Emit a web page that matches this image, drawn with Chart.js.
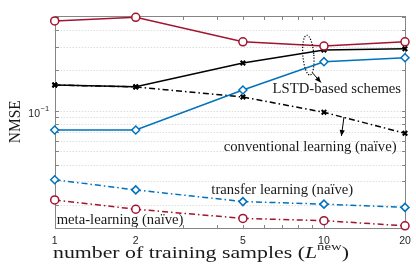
<!DOCTYPE html>
<html><head><meta charset="utf-8">
<script src="https://cdn.jsdelivr.net/npm/chart.js@4/dist/chart.umd.min.js"></script>
<style>html,body{margin:0;padding:0;background:#fff}#wrap{width:416px;height:268px;position:relative}</style>
</head><body><div id="wrap"><canvas id="c"></canvas></div>
<script>
// ---- data ----
const trainingSamples = [1, 2, 5, 10, 20];
const lstdMeta       = [0.467, 0.497, 0.327, 0.304, 0.327];
const lstdConv       = [0.156, 0.1516, 0.2275, 0.284, 0.2905];
const lstdTransfer   = [0.0722, 0.0722, 0.1432, 0.2326, 0.249];
const naiveConv      = [0.156, 0.151, 0.127, 0.0978, 0.0683];
const naiveTransfer  = [0.0308, 0.0259, 0.0212, 0.0203, 0.0192];
const naiveMeta      = [0.0218, 0.0186, 0.0159, 0.0153, 0.0140];
const xTickLabels    = ['1', '2', '5', '10', '20'];
const xMinorTicks    = [3, 4, 6, 7, 8, 9];
const yTickValues    = [0.02, 0.03, 0.04, 0.05, 0.06, 0.07, 0.08, 0.09, 0.1, 0.2, 0.3, 0.4, 0.5];
const yLabelledTicks = [0.1];
const yRange         = [0.01356, 0.511];

const RED = '#A2142F', BLUE = '#0072BD', BLACK = '#000000';
const DASHDOT = [6, 3, 1.5, 3];
function pts(vals) { return trainingSamples.map((x, i) => ({ x: x, y: vals[i] })); }
function ds(label, vals, color, style, dash) {
  const cross = style === 'crossRot';
  return {
    label, data: pts(vals), borderColor: color, backgroundColor: color,
    borderWidth: 1.5, borderDash: dash, pointStyle: style,
    pointRadius: cross ? 3.2 : 4, pointBorderWidth: cross ? 2 : 1.5,
    pointBackgroundColor: cross ? color : '#ffffff', pointBorderColor: color,
    tension: 0, clip: false, fill: false
  };
}

function fitSize(ctx, text, family, style, target) {
  ctx.font = style + ' 100px ' + family;
  return 100 * target / ctx.measureText(text).width;
}

const SERIF = '"Liberation Serif", "Times New Roman", serif';
const SANS = '"Liberation Sans", Arial, sans-serif';

const framePlugin = {
  id: 'frame',
  beforeDatasetsDraw(chart) {
    const { ctx, chartArea: a, scales: { x, y } } = chart;
    ctx.save();
    ctx.lineWidth = 1;
    ctx.strokeStyle = '#cfcfcf';
    ctx.setLineDash([1, 2]);
    yTickValues.forEach(v => {
      const py = Math.round(y.getPixelForValue(v)) + 0.5;
      if (py < a.top + 2 || py > a.bottom - 2) return;
      ctx.beginPath(); ctx.moveTo(a.left, py); ctx.lineTo(a.right, py); ctx.stroke();
    });
    ctx.setLineDash([]);
    ctx.strokeStyle = '#858585';
    const L = Math.round(a.left) + 0.5, R = Math.round(a.right) + 0.5;
    const T = Math.round(a.top) + 0.5, B = Math.round(a.bottom) + 0.5;
    ctx.strokeRect(L, T, R - L, B - T);
    const tl = 3.5;
    trainingSamples.concat(xMinorTicks).forEach(v => {
      const px = Math.round(x.getPixelForValue(v)) + 0.5;
      ctx.beginPath();
      ctx.moveTo(px, B); ctx.lineTo(px, B - tl);
      ctx.moveTo(px, T); ctx.lineTo(px, T + tl);
      ctx.stroke();
    });
    yTickValues.forEach(v => {
      const py = Math.round(y.getPixelForValue(v)) + 0.5;
      ctx.beginPath();
      ctx.moveTo(L, py); ctx.lineTo(L + tl, py);
      ctx.moveTo(R, py); ctx.lineTo(R - tl, py);
      ctx.stroke();
    });
    ctx.restore();
  },
  afterDatasetsDraw(chart) {
    const { ctx, scales: { x, y } } = chart;
    const P = (xv, yv) => [x.getPixelForValue(xv), y.getPixelForValue(yv)];
    ctx.save();
    // dotted ellipse around the LSTD schemes
    const [ex, ey] = P(8.75, 0.26);
    ctx.strokeStyle = '#000'; ctx.lineWidth = 1.2; ctx.setLineDash([1.2, 1.6]);
    ctx.beginPath(); ctx.ellipse(ex, ey, 5.5, 20, -0.08, 0, Math.PI * 2); ctx.stroke();
    ctx.setLineDash([]);
    function arrow(x0, y0, x1, y1) {
      const [a0, b0] = P(x0, y0), [a1, b1] = P(x1, y1);
      ctx.lineWidth = 1; ctx.strokeStyle = '#000'; ctx.fillStyle = '#000';
      ctx.beginPath(); ctx.moveTo(a0, b0); ctx.lineTo(a1, b1); ctx.stroke();
      const ang = Math.atan2(b1 - b0, a1 - a0), h = 6, w = 2.6;
      ctx.beginPath();
      ctx.moveTo(a1, b1);
      ctx.lineTo(a1 - h * Math.cos(ang) + w * Math.sin(ang), b1 - h * Math.sin(ang) - w * Math.cos(ang));
      ctx.lineTo(a1 - h * Math.cos(ang) - w * Math.sin(ang), b1 - h * Math.sin(ang) + w * Math.cos(ang));
      ctx.closePath(); ctx.fill();
    }
    arrow(9.07, 0.1918, 9.75, 0.163);
    arrow(11.87, 0.0902, 11.61, 0.0652);
    // annotation texts
    ctx.fillStyle = '#1a1a1a'; ctx.textBaseline = 'alphabetic'; ctx.textAlign = 'left';
    const notes = [
      ['LSTD-based schemes', 6.445, 0.1353, 127],
      ['conventional learning (naïve)', 4.242, 0.05069, 173],
      ['transfer learning (naïve)', 3.818, 0.02403, 145],
      ['meta-learning (naïve)', 1.017, 0.01438, 127]
    ];
    const s = fitSize(ctx, notes[1][0], SERIF, '', notes[1][3]);
    ctx.font = s.toFixed(2) + 'px ' + SERIF;
    notes.forEach(n => { const [px, py] = P(n[1], n[2]); ctx.fillText(n[0], px, py); });
    ctx.restore();
  },
  afterDraw(chart) {
    const { ctx, chartArea: a, scales: { x, y } } = chart;
    ctx.save();
    ctx.fillStyle = '#262626';
    // x tick labels
    ctx.font = '10.5px ' + SANS; ctx.textAlign = 'center'; ctx.textBaseline = 'middle';
    trainingSamples.forEach((v, i) => ctx.fillText(xTickLabels[i], x.getPixelForValue(v), a.bottom + 13));
    // y tick labels 10^-1
    yLabelledTicks.forEach(v => {
      const py = y.getPixelForValue(v);
      const e = Math.round(Math.log10(v));
      ctx.font = '10.5px ' + SANS; ctx.textAlign = 'right'; ctx.textBaseline = 'middle';
      ctx.fillText('10', 40, py + 3);
      ctx.font = '7.5px ' + SANS; ctx.textAlign = 'left';
      ctx.fillText('\u2212' + Math.abs(e), 40.5, py - 2);
    });
    // y title
    ctx.fillStyle = '#1a1a1a';
    ctx.translate(16, (a.top + a.bottom) / 2);
    ctx.rotate(-Math.PI / 2);
    ctx.font = '15.5px ' + SERIF; ctx.textAlign = 'center'; ctx.textBaseline = 'middle';
    const nw = ctx.measureText('NMSE').width;
    ctx.scale(43 / nw, 1.1);
    ctx.fillText('NMSE', 0, 0);
    ctx.setTransform(1, 0, 0, 1, 0, 0);
    // x title with superscript (glyphs widened to the reference's extent)
    const parts = [
      ['number of training samples (', '', 1, 0],
      ['L', 'italic', 1, 0],
      ['new', '', 0.68, 0.45],
      [')', '', 1, 0]
    ];
    const fs = 16.5;
    let w = 0;
    parts.forEach(p => { ctx.font = p[1] + ' ' + (fs * p[2]).toFixed(2) + 'px ' + SERIF; w += ctx.measureText(p[0]).width; });
    ctx.translate(53, 257.5);
    ctx.scale(296 / w, 1);
    let cx = 0;
    ctx.textAlign = 'left'; ctx.textBaseline = 'alphabetic';
    parts.forEach(p => {
      ctx.font = p[1] + ' ' + (fs * p[2]).toFixed(2) + 'px ' + SERIF;
      ctx.fillText(p[0], cx, -fs * p[3]);
      cx += ctx.measureText(p[0]).width;
    });
    ctx.setTransform(1, 0, 0, 1, 0, 0);
    ctx.restore();
  }
};

new Chart(document.getElementById('c'), {
  type: 'line',
  data: {
    datasets: [
      ds('LSTD meta-learning', lstdMeta, RED, 'circle', []),
      ds('LSTD conventional learning', lstdConv, BLACK, 'crossRot', []),
      ds('LSTD transfer learning', lstdTransfer, BLUE, 'rectRot', []),
      ds('conventional learning (naïve)', naiveConv, BLACK, 'crossRot', DASHDOT),
      ds('transfer learning (naïve)', naiveTransfer, BLUE, 'rectRot', DASHDOT),
      ds('meta-learning (naïve)', naiveMeta, RED, 'circle', DASHDOT)
    ]
  },
  options: {
    responsive: true, maintainAspectRatio: false, animation: false, events: [],
    layout: { padding: { left: 0, right: 11, top: 15.7, bottom: 0 } },
    plugins: { legend: { display: false }, tooltip: { enabled: false } },
    scales: {
      x: {
        type: 'logarithmic', min: 1, max: 20, bounds: 'data',
        grid: { display: false }, border: { display: false },
        ticks: { display: false },
        afterFit(s) { s.height = 40.3; }
      },
      y: {
        type: 'logarithmic', min: yRange[0], max: yRange[1], bounds: 'data',
        grid: { display: false }, border: { display: false },
        ticks: { display: false },
        afterFit(s) { s.width = 54.7; }
      }
    }
  },
  plugins: [framePlugin]
});
</script>
</body></html>
